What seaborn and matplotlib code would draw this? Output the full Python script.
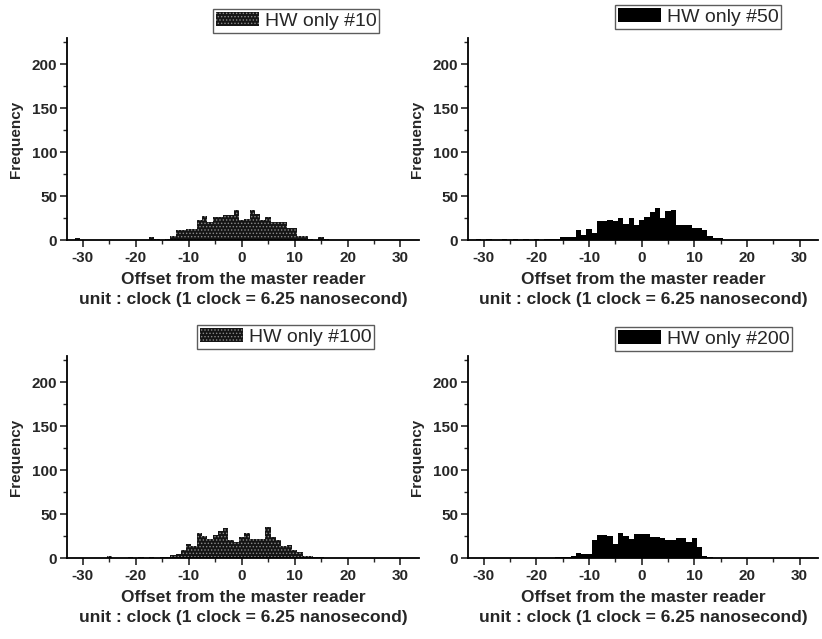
import numpy as np
import pandas as pd
import seaborn as sns
import matplotlib.pyplot as plt
from matplotlib.patches import Patch
from matplotlib.ticker import MultipleLocator

# bin centres (clock offsets), 1 clock wide
OFFSETS = list(range(-32, 17))

# frequency per bin, offsets -32..16
HW10 = [0, 2, 0, 0, 0, 0, 0, 0, 0, 0,
        0, 0, 0, 0, 0, 3, 1, 0, 1, 5,
        11, 11, 12, 12, 23, 27, 21, 26, 26, 28,
        28, 34, 23, 24, 34, 30, 23, 26, 20, 20,
        20, 14, 14, 4, 4, 1, 0, 3, 1]
HW50 = [0, 1, 0, 1, 0, 0, 1, 0, 1, 0,
        1, 0, 1, 0, 1, 1, 1, 3, 3, 3,
        11, 6, 13, 8, 22, 22, 23, 22, 25, 18,
        25, 17, 23, 26, 32, 36, 25, 33, 34, 17,
        17, 17, 14, 14, 11, 4, 2, 2, 0]
HW100 = [0, 0, 0, 0, 0, 0, 0, 2, 0, 0,
         0, 1, 0, 1, 0, 1, 0, 1, 1, 3,
         5, 9, 16, 14, 28, 25, 22, 26, 31, 34,
         21, 18, 24, 28, 22, 22, 22, 35, 24, 21,
         14, 15, 9, 7, 2, 2, 1, 1, 0]
HW200 = [0, 0, 0, 0, 0, 0, 0, 0, 0, 0,
         0, 0, 0, 0, 0, 0, 1, 1, 1, 2,
         6, 5, 5, 20, 26, 26, 25, 16, 28, 25,
         22, 27, 27, 27, 24, 24, 23, 20, 21, 23,
         23, 18, 23, 12, 2, 1, 0, 0, 0]

LABELS = ["HW only #10", "HW only #50", "HW only #100", "HW only #200"]
STIPPLED = [True, False, True, False]

X_LABEL = "Offset from the master reader\nunit : clock (1 clock = 6.25 nanosecond)"
Y_LABEL = "Frequency"

W, H = 822, 639

sns.set_theme(style="ticks")
plt.rcParams["font.family"] = ["Liberation Sans", "DejaVu Sans"]
plt.rcParams["axes.unicode_minus"] = False
plt.rcParams["hatch.linewidth"] = 0.6


def fx(px):
    return px / W


def fy(px):
    return 1 - px / H


fig = plt.figure(figsize=(W / 100, H / 100), dpi=100)

# axes boxes in pixels: left, top, right, bottom
boxes = [(67, 38, 419, 240), (468, 38, 818, 240),
         (67, 356, 419, 558), (468, 356, 818, 558)]
legend_pos = [(213, 9), (615, 5), (197, 325), (615, 327)]
series = [HW10, HW50, HW100, HW200]

for i, counts in enumerate(series):
    l, t, r, b = boxes[i]
    ax = fig.add_axes([fx(l), fy(b), (r - l) / W, (b - t) / H])
    df = pd.DataFrame({"offset": OFFSETS, "count": counts})

    if STIPPLED[i]:
        face, edge, hatch = "#151515", "#8a8a8a", "....."
    else:
        face, edge, hatch = "black", "black", None

    sns.histplot(data=df, x="offset", weights="count", discrete=True,
                 color=face, alpha=1, linewidth=0, ax=ax)
    for p in ax.patches:
        p.set_facecolor(face)
        p.set_edgecolor(edge)
        p.set_linewidth(0)
        if hatch:
            p.set_hatch(hatch)

    ax.set_xlim(-33, 33.5)
    ax.set_ylim(0, 230)
    ax.xaxis.set_major_locator(MultipleLocator(10))
    ax.xaxis.set_minor_locator(MultipleLocator(5))
    ax.yaxis.set_major_locator(MultipleLocator(50))
    ax.yaxis.set_minor_locator(MultipleLocator(25))
    ax.tick_params(which="major", direction="out", length=5, width=1.2,
                   labelsize=11, pad=2)
    ax.tick_params(axis="x", which="major", pad=3)
    ax.tick_params(which="minor", direction="out", length=3, width=1)
    for lab in ax.get_xticklabels() + ax.get_yticklabels():
        lab.set_fontweight("bold")
    sns.despine(ax=ax)
    for s in ["left", "bottom"]:
        ax.spines[s].set_linewidth(1.3)
        ax.spines[s].set_color("black")

    ax.set_xlabel(X_LABEL, fontsize=12.5, fontweight="bold", linespacing=1.45,
                  labelpad=5)
    ax.set_ylabel(Y_LABEL, fontsize=11, fontweight="bold", labelpad=6)

    handle = Patch(facecolor=face, edgecolor=edge, hatch=hatch, linewidth=0)
    lx, ly = legend_pos[i]
    leg = fig.legend([handle], [LABELS[i]], loc="upper left",
                     bbox_to_anchor=(fx(lx), fy(ly)), borderaxespad=0,
                     fontsize=14, frameon=True, fancybox=False,
                     handlelength=2.2, handleheight=0.75, handletextpad=0.3,
                     borderpad=0.15)
    leg.get_frame().set_edgecolor("#333333")
    leg.get_frame().set_linewidth(1.0)

fig.savefig("out.png", dpi=100)
